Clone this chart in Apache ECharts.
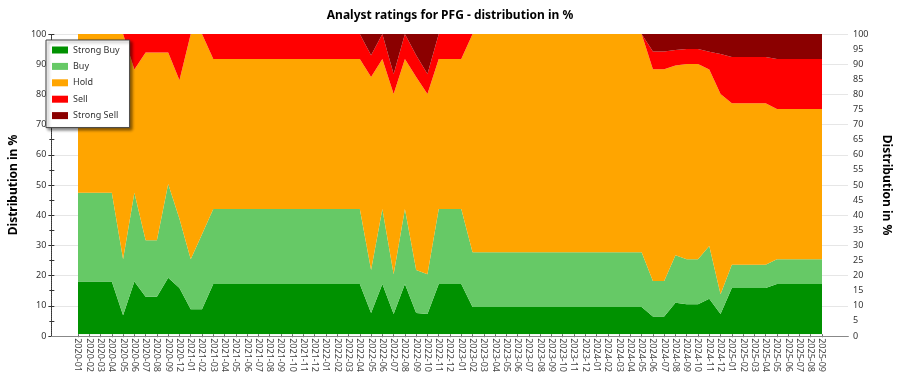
<!DOCTYPE html>
<html>
<head>
<meta charset="utf-8">
<script src="https://cdn.jsdelivr.net/npm/echarts@6/dist/echarts.min.js"></script>
<style>html,body{margin:0;padding:0;background:#fff;}#c{width:900px;height:375px;}</style>
</head>
<body>
<div id="c"></div>
<script>
const categories = [
 '2020-01','2020-02','2020-03','2020-04','2020-05','2020-06','2020-07','2020-08','2020-09','2020-12',
 '2021-01','2021-02','2021-03','2021-04','2021-05','2021-06','2021-07','2021-08','2021-09','2021-10','2021-11','2021-12',
 '2022-01','2022-02','2022-03','2022-04','2022-05','2022-06','2022-07','2022-08','2022-09','2022-10','2022-11','2022-12',
 '2023-01','2023-02','2023-03','2023-04','2023-05','2023-06','2023-07','2023-08','2023-09','2023-10','2023-11','2023-12',
 '2024-01','2024-02','2024-03','2024-04','2024-05','2024-06','2024-07','2024-08','2024-09','2024-10','2024-11','2024-12',
 '2025-01','2025-02','2025-03','2025-04','2025-05','2025-06','2025-07','2025-08','2025-09'
];
const strongBuy = [17.6,17.6,17.6,17.6,6.3,17.6,12.5,12.5,18.8,15.4,
 8.3,8.3,16.7,16.7,16.7,16.7,16.7,16.7,16.7,16.7,16.7,16.7,
 16.7,16.7,16.7,16.7,7.1,16.7,6.7,16.7,7.1,6.7,16.7,16.7,
 16.7,9.1,9.1,9.1,9.1,9.1,9.1,9.1,9.1,9.1,9.1,9.1,
 9.1,9.1,9.1,9.1,9.1,5.9,5.9,10.5,10,10,11.8,6.7,
 15.4,15.4,15.4,15.4,16.7,16.7,16.7,16.7,16.7];
const buy = [29.5,29.5,29.5,29.5,18.7,29.5,18.8,18.8,31.2,23.1,
 16.7,25,25,25,25,25,25,25,25,25,25,25,
 25,25,25,25,14.3,25,13.3,25,14.3,13.3,25,25,
 25,18.2,18.2,18.2,18.2,18.2,18.2,18.2,18.2,18.2,18.2,18.2,
 18.2,18.2,18.2,18.2,18.2,11.8,11.8,15.8,15,15,17.6,6.6,
 7.7,7.7,7.7,7.7,8.3,8.3,8.3,8.3,8.3];
const hold = [52.9,52.9,52.9,52.9,75,41.1,62.5,62.5,43.8,46.1,
 75,66.7,50,50,50,50,50,50,50,50,50,50,
 50,50,50,50,64.3,50,60,50,64.3,60,50,50,
 50,72.7,72.7,72.7,72.7,72.7,72.7,72.7,72.7,72.7,72.7,72.7,
 72.7,72.7,72.7,72.7,72.7,70.6,70.6,63.2,65,65,58.8,66.7,
 53.8,53.8,53.8,53.8,50,50,50,50,50];
const sell = [0,0,0,0,0,11.8,6.2,6.2,6.2,15.4,
 0,0,8.3,8.3,8.3,8.3,8.3,8.3,8.3,8.3,8.3,8.3,
 8.3,8.3,8.3,8.3,7.2,8.3,6.7,8.3,7.2,6.7,8.3,8.3,
 8.3,0,0,0,0,0,0,0,0,0,0,0,
 0,0,0,0,0,5.9,5.9,5.2,5,5,5.9,13.3,
 15.4,15.4,15.4,15.4,16.7,16.7,16.7,16.7,16.7];
const strongSell = [0,0,0,0,0,0,0,0,0,0,
 0,0,0,0,0,0,0,0,0,0,0,0,
 0,0,0,0,7.1,0,13.3,0,7.1,13.3,0,0,
 0,0,0,0,0,0,0,0,0,0,0,0,
 0,0,0,0,0,5.8,5.8,5.3,5,5,5.9,6.7,
 7.7,7.7,7.7,7.7,8.3,8.3,8.3,8.3,8.3];
const seriesNames = ['Strong Buy','Buy','Hold','Sell','Strong Sell'];
const seriesColors = ['#009100','#66c966','#ffa500','#ff0000','#8b0000'];
const seriesData = [strongBuy, buy, hold, sell, strongSell];

const FONT = 'Noto Sans';
const chart = echarts.init(document.getElementById('c'), null, {renderer:'canvas'});
chart.setOption({
  animation: false,
  textStyle: {fontFamily: FONT},
  title: {
    text: 'Analyst ratings for PFG - distribution in %',
    left: 'center', top: 5,
    textStyle: {fontSize: 12, fontWeight: 'bold', color: '#000', fontFamily: FONT}
  },
  legend: {
    orient: 'vertical', left: 46, top: 40,
    data: seriesNames,
    icon: 'rect', itemWidth: 16, itemHeight: 7, itemGap: 4.4,
    padding: [4, 10, 6, 6],
    backgroundColor: '#fff', borderColor: '#444', borderWidth: 1,
    shadowBlur: 3, shadowColor: 'rgba(0,0,0,0.45)', shadowOffsetX: 2, shadowOffsetY: 2,
    textStyle: {fontSize: 9, color: '#333', lineHeight: 12, fontFamily: FONT},
    z: 10
  },
  grid: [
    {left: 78, right: 78, top: 34, bottom: 39},
    {left: 41, right: 41, top: 34, bottom: 39}
  ],
  xAxis: [
    {gridIndex: 0, type: 'category', data: categories, boundaryGap: false,
     axisLine: {show: false},
     axisTick: {show: true, length: 3, lineStyle: {color: '#666'}},
     axisLabel: {rotate: -90, fontSize: 9, color: '#444', margin: 4, interval: 0, fontFamily: FONT},
     splitLine: {show: false}},
    {gridIndex: 1, type: 'value', min: 0, max: 1, position: 'bottom', z: 5,
     axisLine: {show: true, lineStyle: {color: '#444', width: 1}},
     axisTick: {show: false}, axisLabel: {show: false}, splitLine: {show: false}},
    {gridIndex: 1, type: 'value', min: 0, max: 1, position: 'top', z: 5,
     axisLine: {show: true, lineStyle: {color: '#888', width: 1}},
     axisTick: {show: false}, axisLabel: {show: false}, splitLine: {show: false}}
  ],
  yAxis: [
    {gridIndex: 0, type: 'value', min: 0, max: 100, show: false},
    {gridIndex: 1, type: 'value', min: 0, max: 100, interval: 10, position: 'left',
     name: 'Distribution in %', nameLocation: 'middle', nameGap: 28,
     nameTextStyle: {fontSize: 12, fontWeight: 'bold', color: '#000', fontFamily: FONT},
     axisLine: {show: true, lineStyle: {color: '#333', type: 'dotted'}},
     axisTick: {show: true, length: 3, lineStyle: {color: '#333'}},
     minorTick: {show: true, splitNumber: 2, length: 2, lineStyle: {color: '#333'}},
     axisLabel: {fontSize: 9, color: '#333', margin: 5, fontFamily: FONT},
     splitLine: {show: true, lineStyle: {color: '#e6e6e6'}}},
    {gridIndex: 1, type: 'value', min: 0, max: 100, interval: 5, position: 'right',
     name: 'Distribution in %', nameLocation: 'middle', nameGap: 32, nameRotate: -90,
     nameTextStyle: {fontSize: 12, fontWeight: 'bold', color: '#000', fontFamily: FONT},
     axisLine: {show: true, lineStyle: {color: '#333', type: 'dotted'}},
     axisTick: {show: true, length: 3, lineStyle: {color: '#333'}},
     axisLabel: {fontSize: 9, color: '#333', margin: 5, fontFamily: FONT},
     splitLine: {show: false}}
  ],
  series: seriesNames.map((n, i) => ({
    name: n, type: 'line', stack: 'total', xAxisIndex: 0, yAxisIndex: 0,
    data: seriesData[i], symbol: 'none', showSymbol: false,
    lineStyle: {width: 0, color: seriesColors[i]},
    itemStyle: {color: seriesColors[i]},
    areaStyle: {color: seriesColors[i], opacity: 1}
  }))
});
</script>
</body>
</html>
